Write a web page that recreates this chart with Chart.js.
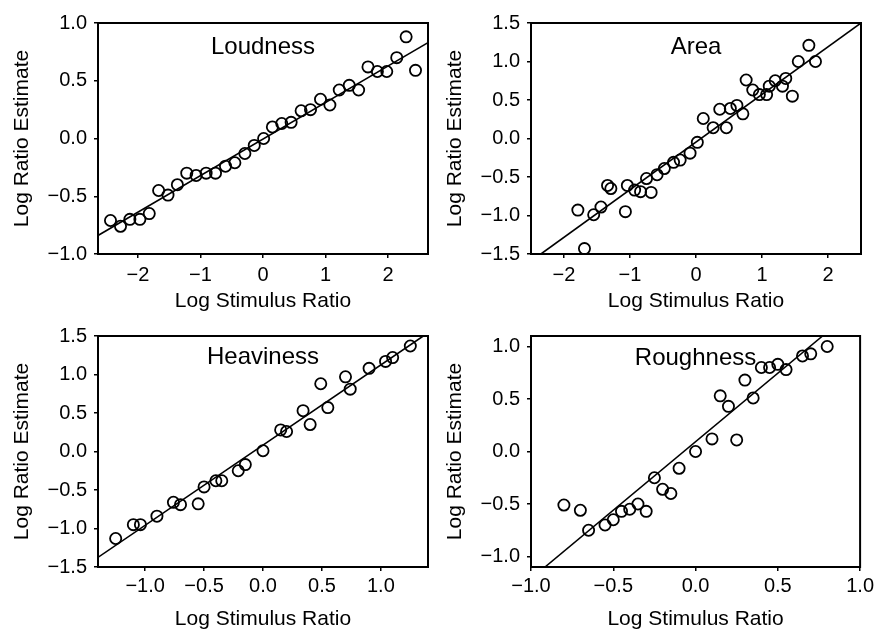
<!DOCTYPE html>
<html>
<head>
<meta charset="utf-8">
<script src="https://cdn.jsdelivr.net/npm/chart.js@4/dist/chart.umd.min.js"></script>
<style>
  body { margin: 0; background: #fff; }
  #wrap { position: relative; width: 877px; height: 632px; }
  .panel { position: absolute; }
</style>
</head>
<body>
<div id="wrap">
  <div class="panel" style="left:0;top:0;width:438px;height:316px"><canvas id="chart-loudness" width="438" height="316"></canvas></div>
  <div class="panel" style="left:438px;top:0;width:439px;height:316px"><canvas id="chart-area" width="439" height="316"></canvas></div>
  <div class="panel" style="left:0;top:316px;width:438px;height:316px"><canvas id="chart-heaviness" width="438" height="316"></canvas></div>
  <div class="panel" style="left:438px;top:316px;width:439px;height:316px"><canvas id="chart-roughness" width="439" height="316"></canvas></div>
</div>
<script>
// values
const loudness_x = [-2.44, -2.28, -2.13, -1.97, -1.82, -1.67, -1.52, -1.37, -1.22, -1.07, -0.91, -0.76, -0.60, -0.45, -0.29, -0.14, 0.01,
  0.15, 0.30, 0.45, 0.61, 0.76, 0.92, 1.07, 1.22, 1.38, 1.53, 1.68, 1.83, 1.98, 2.14, 2.29, 2.44];
const loudness_y = [-0.71, -0.76, -0.70, -0.70, -0.65, -0.45, -0.49, -0.40, -0.30, -0.32, -0.30, -0.30, -0.24, -0.21, -0.13, -0.06, 0.00,
  0.10, 0.13, 0.14, 0.24, 0.25, 0.34, 0.29, 0.42, 0.46, 0.42, 0.62, 0.58, 0.58, 0.70, 0.88, 0.59];
const loudness_fit_x = [-2.64, 2.64];
const loudness_fit_y = [-0.84, 0.83];

const area_x = [-1.79, -1.69, -1.55, -1.44, -1.34, -1.29, -1.07, -1.04, -0.93, -0.84, -0.75, -0.68, -0.59, -0.48, -0.34, -0.24, -0.09, 0.02,
  0.11, 0.26, 0.36, 0.46, 0.52, 0.62, 0.71, 0.76, 0.86, 0.96, 1.07, 1.11, 1.20, 1.31, 1.36, 1.46, 1.55, 1.71, 1.81];
const area_y = [-0.93, -1.43, -0.99, -0.89, -0.61, -0.65, -0.95, -0.61, -0.67, -0.69, -0.52, -0.70, -0.47, -0.39, -0.31, -0.28, -0.19, -0.05,
  0.26, 0.14, 0.38, 0.14, 0.39, 0.43, 0.32, 0.76, 0.63, 0.57, 0.57, 0.68, 0.75, 0.68, 0.78, 0.55, 1.00, 1.21, 1.00];
const area_fit_x = [-2.35, 2.5];
const area_fit_y = [-1.5, 1.5];

const heaviness_x = [-1.25, -1.10, -1.04, -0.90, -0.76, -0.70, -0.55, -0.50, -0.40, -0.35, -0.21, -0.15, 0.00,
  0.15, 0.20, 0.34, 0.40, 0.49, 0.55, 0.70, 0.74, 0.90, 1.04, 1.10, 1.25];
const heaviness_y = [-1.13, -0.95, -0.95, -0.84, -0.66, -0.69, -0.68, -0.46, -0.38, -0.38, -0.25, -0.17, 0.01,
  0.28, 0.26, 0.53, 0.35, 0.88, 0.57, 0.97, 0.81, 1.08, 1.17, 1.22, 1.37];
const heaviness_fit_x = [-1.405, 1.36];
const heaviness_fit_y = [-1.38, 1.5];

const roughness_x = [-0.80, -0.70, -0.65, -0.55, -0.50, -0.45, -0.40, -0.35, -0.30, -0.25, -0.20, -0.15, -0.10, 0.00,
  0.10, 0.15, 0.20, 0.25, 0.30, 0.35, 0.40, 0.45, 0.50, 0.55, 0.65, 0.70, 0.80];
const roughness_y = [-0.51, -0.56, -0.75, -0.70, -0.65, -0.57, -0.55, -0.50, -0.57, -0.25, -0.36, -0.40, -0.16, 0.00,
  0.12, 0.53, 0.43, 0.11, 0.68, 0.51, 0.80, 0.80, 0.83, 0.78, 0.91, 0.93, 1.00];
const roughness_fit_x = [-0.915, 0.772];
const roughness_fit_y = [-1.1, 1.1];

const ticks_int_wide = [-2, -1, 0, 1, 2];
const ticks_unit = [-1, -0.5, 0, 0.5, 1];
const ticks_wide = [-1.5, -1, -0.5, 0, 0.5, 1, 1.5];

const x_title = 'Log Stimulus Ratio';
const y_title = 'Log Ratio Estimate';

function fmt(v, decimals){
    return v.toFixed(decimals).replace('-', '\u2212');
}

function to_points(xs, ys){
    return xs.map((x, i) => ({x: x, y: ys[i]}));
}

const font_family = '"Liberation Sans", Arial, sans-serif';

// frame around the plot area plus the panel name inside it
const frame_plugin = {
    id: 'frame',
    afterDatasetsDraw(chart, args, opts){
        const a = chart.chartArea;
        const ctx = chart.ctx;
        ctx.save();
        ctx.strokeStyle = '#000';
        ctx.lineWidth = 2;
        ctx.strokeRect(a.left, a.top, a.right - a.left, a.bottom - a.top);
        ctx.fillStyle = '#000';
        ctx.font = '24px ' + font_family;
        ctx.textAlign = 'center';
        ctx.textBaseline = 'middle';
        ctx.fillText(opts.label, (a.left + a.right) / 2, a.top + opts.labelOffset);
        ctx.restore();
    }
};

function add_panel(p){
    const ctx = document.getElementById(p.id);
    new Chart(ctx, {
        data: {
            datasets: [{
                type: 'line',
                data: to_points(p.fit_x, p.fit_y),
                borderColor: '#000',
                borderWidth: 1.6,
                pointRadius: 0,
                fill: false
            }, {
                type: 'scatter',
                data: to_points(p.xs, p.ys),
                pointRadius: 5.6,
                pointBorderWidth: 1.8,
                pointBorderColor: '#000',
                pointBackgroundColor: 'rgba(0,0,0,0)',
                clip: false
            }]
        },
        options: {
            responsive: false,
            animation: false,
            layout: {padding: {top: p.pad_top, right: p.pad_right, left: 0, bottom: 0}},
            plugins: {
                legend: {display: false},
                tooltip: {enabled: false},
                frame: {label: p.label, labelOffset: p.label_offset}
            },
            scales: {
                x: {
                    type: 'linear',
                    min: p.x_min, max: p.x_max,
                    afterBuildTicks: s => { s.ticks = p.x_ticks.map(v => ({value: v})); },
                    afterFit: s => { s.height = p.x_height; },
                    border: {display: false},
                    grid: {drawOnChartArea: false, drawTicks: true, tickLength: 4, color: '#000', lineWidth: 1.5},
                    ticks: {color: '#000', font: {family: font_family, size: 20}, padding: p.x_tick_pad, maxRotation: 0,
                        callback: v => fmt(v, p.x_dec)},
                    title: {display: true, text: x_title, color: '#000', font: {family: font_family, size: 21},
                        padding: {top: 0, bottom: p.x_title_pad}}
                },
                y: {
                    type: 'linear',
                    min: p.y_min, max: p.y_max,
                    afterBuildTicks: s => { s.ticks = p.y_ticks.map(v => ({value: v})); },
                    afterFit: s => { s.width = p.y_width; },
                    border: {display: false},
                    grid: {drawOnChartArea: false, drawTicks: true, tickLength: 4, color: '#000', lineWidth: 1.5},
                    ticks: {color: '#000', font: {family: font_family, size: 20}, padding: 7,
                        callback: v => fmt(v, 1)},
                    title: {display: true, text: y_title, color: '#000', font: {family: font_family, size: 21},
                        padding: {top: p.y_title_pad, bottom: 0}}
                }
            }
        },
        plugins: [frame_plugin]
    });
}

add_panel({id: 'chart-loudness', label: 'Loudness', label_offset: 24,
    xs: loudness_x, ys: loudness_y, fit_x: loudness_fit_x, fit_y: loudness_fit_y,
    x_min: -2.64, x_max: 2.64, y_min: -1, y_max: 1, x_ticks: ticks_int_wide, y_ticks: ticks_unit, x_dec: 0,
    pad_top: 23, pad_right: 10, y_width: 98, x_height: 62, x_tick_pad: 5, x_title_pad: 2.4, y_title_pad: 9.4});

add_panel({id: 'chart-area', label: 'Area', label_offset: 24,
    xs: area_x, ys: area_y, fit_x: area_fit_x, fit_y: area_fit_y,
    x_min: -2.5, x_max: 2.5, y_min: -1.5, y_max: 1.5, x_ticks: ticks_int_wide, y_ticks: ticks_wide, x_dec: 0,
    pad_top: 23, pad_right: 16, y_width: 93, x_height: 62, x_tick_pad: 5, x_title_pad: 2.4, y_title_pad: 4.7});

add_panel({id: 'chart-heaviness', label: 'Heaviness', label_offset: 21,
    xs: heaviness_x, ys: heaviness_y, fit_x: heaviness_fit_x, fit_y: heaviness_fit_y,
    x_min: -1.4, x_max: 1.4, y_min: -1.5, y_max: 1.5, x_ticks: ticks_unit, y_ticks: ticks_wide, x_dec: 1,
    pad_top: 20, pad_right: 10, y_width: 98, x_height: 65, x_tick_pad: 3, x_title_pad: 0, y_title_pad: 9.4});

add_panel({id: 'chart-roughness', label: 'Roughness', label_offset: 22,
    xs: roughness_x, ys: roughness_y, fit_x: roughness_fit_x, fit_y: roughness_fit_y,
    x_min: -1, x_max: 1, y_min: -1.1, y_max: 1.1, x_ticks: ticks_unit, y_ticks: ticks_unit, x_dec: 1,
    pad_top: 20, pad_right: 16, y_width: 93, x_height: 65, x_tick_pad: 3, x_title_pad: 0, y_title_pad: 4.7});
</script>
</body>
</html>
